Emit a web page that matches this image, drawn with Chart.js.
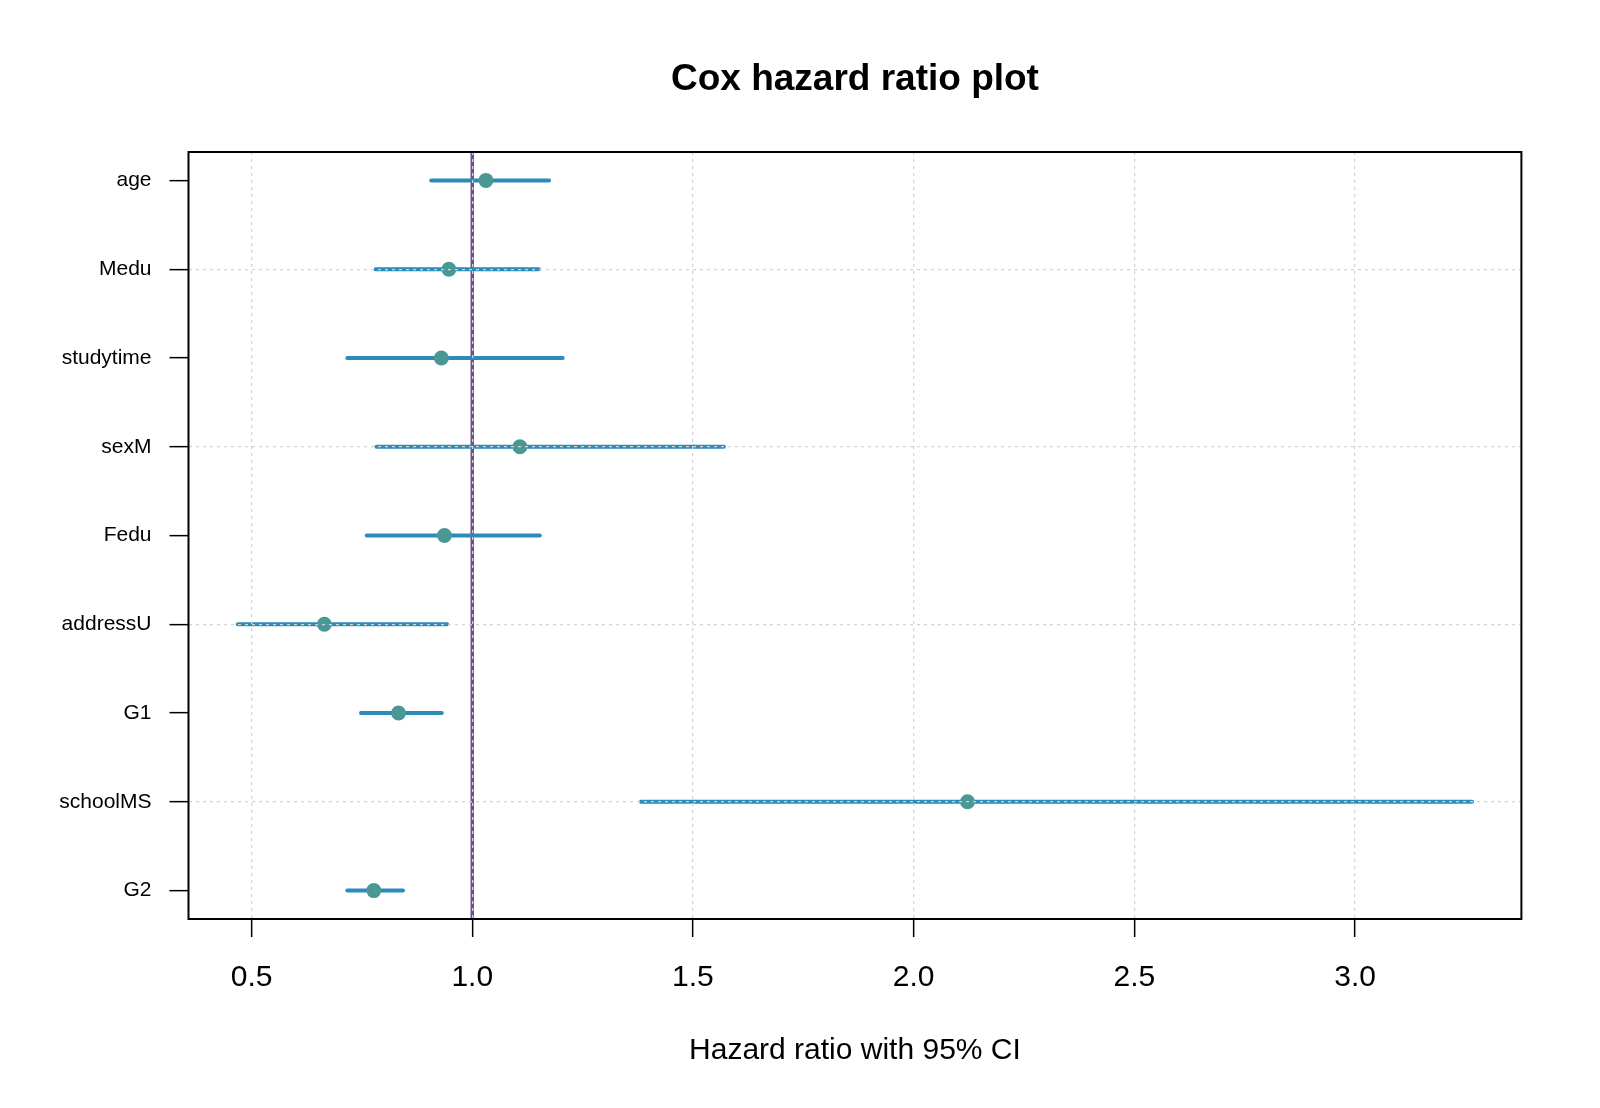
<!DOCTYPE html>
<html>
<head>
<meta charset="utf-8">
<script src="https://cdn.jsdelivr.net/npm/chart.js@4/dist/chart.umd.min.js"></script>
<style>
  html, body { margin: 0; padding: 0; background: #ffffff; }
  #wrap { width: 1600px; height: 1108px; position: relative; }
</style>
</head>
<body>
<div id="wrap"><canvas id="c" width="1600" height="1108"></canvas></div>
<script>
// ---- data ----
const categories = ['age', 'Medu', 'studytime', 'sexM', 'Fedu', 'addressU', 'G1', 'schoolMS', 'G2'];
const hazardRatio = [1.031, 0.947, 0.930, 1.108, 0.937, 0.665, 0.833, 2.122, 0.777];
const lowerCI     = [0.907, 0.781, 0.717, 0.783, 0.761, 0.469, 0.748, 1.382, 0.717];
const upperCI     = [1.174, 1.151, 1.205, 1.570, 1.153, 0.943, 0.931, 3.265, 0.843];
const xTickValues = [0.5, 1.0, 1.5, 2.0, 2.5, 3.0];
const referenceValue = 1.0;
const chartTitle = 'Cox hazard ratio plot';
const xAxisTitle = 'Hazard ratio with 95% CI';

// ---- styles ----
const FONT = "'Liberation Sans', Arial, Helvetica, sans-serif";
const CI_COLOR = '#2b8cb9';
const POINT_COLOR = '#4a9896';
const REF_COLOR = '#704f8c';
const GRID_COLOR = '#d3d3d3';

// axis ranges extended by 4% like R
const dataMin = Math.min(...lowerCI), dataMax = Math.max(...upperCI);
const xExt = (dataMax - dataMin) * 0.04;
const xMin = dataMin - xExt, xMax = dataMax + xExt;
const yExt = (categories.length - 1) * 0.04;
const yMin = 1 - yExt, yMax = categories.length + yExt;

const datasets = [];
// reference line
datasets.push({
  type: 'line',
  data: [{x: referenceValue, y: yMin}, {x: referenceValue, y: yMax}],
  borderColor: REF_COLOR, borderWidth: 3.5, pointRadius: 0, showLine: true,
  order: 3
});
// CI segments
categories.forEach((c, i) => {
  datasets.push({
    type: 'line',
    data: [{x: lowerCI[i], y: i + 1}, {x: upperCI[i], y: i + 1}],
    borderColor: CI_COLOR, borderWidth: 4, pointRadius: 0, showLine: true,
    borderCapStyle: 'round',
    order: 2
  });
});
// point estimates
datasets.push({
  type: 'scatter',
  data: hazardRatio.map((v, i) => ({x: v, y: i + 1})),
  backgroundColor: POINT_COLOR, borderColor: POINT_COLOR, pointRadius: 7.5, borderWidth: 0,
  order: 1
});

const boxPlugin = {
  id: 'box',
  afterDraw(chart) {
    const {ctx, chartArea: a} = chart;
    ctx.save();
    ctx.strokeStyle = '#000';
    ctx.lineWidth = 2;
    ctx.strokeRect(a.left, a.top, a.right - a.left, a.bottom - a.top);
    ctx.restore();
  }
};

new Chart(document.getElementById('c'), {
  type: 'scatter',
  data: { datasets },
  plugins: [boxPlugin],
  options: {
    responsive: false,
    animation: false,
    devicePixelRatio: 1,
    layout: { padding: { left: 0, right: 78.6, top: 0, bottom: 0 } },
    plugins: { legend: { display: false }, tooltip: { enabled: false }, title: { display: false } },
    scales: {
      x: {
        type: 'linear', position: 'bottom', min: xMin, max: xMax,
        afterBuildTicks: s => { s.ticks = xTickValues.map(v => ({value: v})); },
        afterFit: s => { s.height = 189; },
        ticks: {
          color: '#000', font: { family: FONT, size: 30 }, padding: 23,
          maxRotation: 0, autoSkip: false,
          callback: v => Number(v).toFixed(1)
        },
        grid: {
          z: 1, color: GRID_COLOR, lineWidth: 1.3,
          tickColor: '#000', tickLength: 18, tickWidth: 1.5, tickBorderDash: []
        },
        border: { display: false, dash: [3, 4] },
        title: {
          display: true, text: xAxisTitle, color: '#000',
          font: { family: FONT, size: 30 }, padding: { top: 0, bottom: 39 }
        }
      },
      x2: {
        type: 'linear', position: 'top', min: xMin, max: xMax,
        afterFit: s => { s.height = 152; },
        ticks: { display: false },
        grid: { display: false, drawTicks: false },
        border: { display: false },
        title: {
          display: true, text: chartTitle, color: '#000',
          font: { family: FONT, size: 37, weight: 'bold' }, padding: { top: 57.3, bottom: 0 }
        }
      },
      y: {
        type: 'linear', position: 'left', reverse: true, min: yMin, max: yMax,
        afterBuildTicks: s => { s.ticks = categories.map((_, i) => ({value: i + 1})); },
        afterFit: s => { s.width = 188.5; },
        ticks: {
          color: '#000', font: { family: FONT, size: 21 }, padding: 18, autoSkip: false,
          callback: v => categories[Math.round(v) - 1]
        },
        grid: {
          z: 1, lineWidth: 1.3,
          color: ctx => (ctx.tick && Math.round(ctx.tick.value) % 2 === 0) ? GRID_COLOR : 'rgba(0,0,0,0)',
          tickColor: '#000', tickLength: 19, tickWidth: 1.5, tickBorderDash: []
        },
        border: { display: false, dash: [3, 4] }
      }
    }
  }
});
</script>
</body>
</html>
